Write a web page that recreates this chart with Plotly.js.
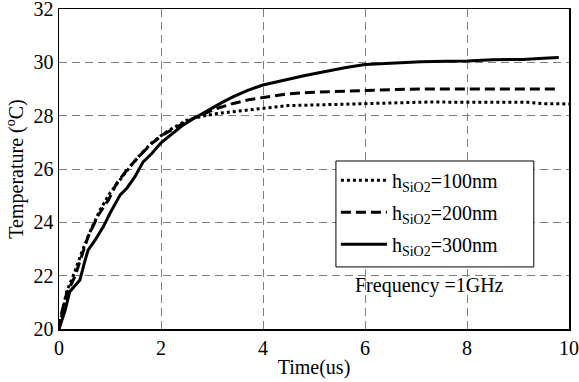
<!DOCTYPE html>
<html>
<head>
<meta charset="utf-8">
<script src="https://cdn.plot.ly/plotly-3.0.1.min.js"></script>
<style>html,body{margin:0;padding:0;background:#fff;}#chart{width:579px;height:382px;}</style>
</head>
<body>
<div id="chart"></div>
<script>
// Time (us) and temperature (°C)
const t100 = [0, 0.05, 0.15, 0.3, 0.45, 0.6, 0.8, 1.0, 1.2, 1.4, 1.6, 1.8, 2.0, 2.2, 2.5, 2.83, 3.1, 3.42, 3.8, 4.2, 4.5, 5.0, 5.31, 6.03, 6.6, 7.21, 8.0, 8.6, 9.2, 9.5, 10];
const T100 = [20.0, 20.5, 21.4, 22.1, 22.9, 23.6, 24.45, 25.1, 25.6, 26.1, 26.55, 26.95, 27.25, 27.5, 27.82, 27.99, 28.08, 28.15, 28.25, 28.33, 28.38, 28.4, 28.42, 28.46, 28.48, 28.51, 28.5, 28.5, 28.5, 28.45, 28.44];

const t200 = [0, 0.05, 0.15, 0.31, 0.44, 0.57, 0.77, 0.97, 1.13, 1.33, 1.56, 1.82, 2.05, 2.3, 2.63, 3.09, 3.4, 3.75, 4.1, 4.5, 5.0, 5.3, 6.0, 6.6, 7.2, 8.0, 9.0, 9.8];
const T200 = [20.0, 20.59, 21.33, 21.96, 22.71, 23.46, 24.27, 24.84, 25.46, 25.96, 26.46, 26.96, 27.3, 27.55, 27.9, 28.27, 28.45, 28.61, 28.72, 28.82, 28.88, 28.9, 28.96, 28.98, 29.0, 29.0, 29.0, 29.0];

const t300 = [0, 0.05, 0.12, 0.21, 0.3, 0.41, 0.5, 0.57, 0.71, 0.87, 1.0, 1.1, 1.2, 1.33, 1.49, 1.65, 1.82, 2.0, 2.2, 2.4, 2.6, 2.76, 3.0, 3.2, 3.42, 3.7, 4.0, 4.2, 4.5, 4.8, 5.2, 5.6, 6.0, 6.5, 7.1, 7.6, 8.0, 8.5, 9.1, 9.5, 9.8];
const T300 = [20.0, 20.3, 20.7, 21.4, 21.6, 21.84, 22.5, 22.96, 23.34, 23.84, 24.34, 24.7, 25.03, 25.28, 25.71, 26.27, 26.58, 26.98, 27.3, 27.6, 27.85, 28.02, 28.3, 28.5, 28.71, 28.95, 29.15, 29.24, 29.38, 29.5, 29.65, 29.8, 29.92, 29.97, 30.02, 30.04, 30.05, 30.1, 30.11, 30.15, 30.18];

const seriesNames = ['h<sub>SiO2</sub>=100nm', 'h<sub>SiO2</sub>=200nm', 'h<sub>SiO2</sub>=300nm'];
const xTicks = [0, 2, 4, 6, 8, 10];
const yTicks = [20, 22, 24, 26, 28, 30, 32];
const noteText = 'Frequency =1GHz';

const font = {family: 'Times New Roman, Liberation Serif, DejaVu Serif, serif', size: 20, color: '#000'};

const traces = [
  {x: t100, y: T100, name: seriesNames[0], legendgroup: 'g1', mode: 'lines', line: {color: '#000', width: 3, dash: '3px,3px'}},
  {x: t200, y: T200, name: seriesNames[1], legendgroup: 'g2', mode: 'lines', line: {color: '#000', width: 3, dash: '10px,5px'}},
  {x: t300, y: T300, name: seriesNames[2], legendgroup: 'g3', mode: 'lines', line: {color: '#000', width: 3}}
];

const axisCommon = {
  showline: true, mirror: true, linecolor: '#000', linewidth: 1.5,
  showgrid: true, gridcolor: '#7f7f7f', gridwidth: 1, griddash: '8px,5px',
  zeroline: false, ticks: '', tickfont: font, ticklabeloverflow: 'allow'
};

const layout = {
  width: 579, height: 382,
  margin: {l: 59, r: 10, t: 9, b: 53},
  paper_bgcolor: '#fff', plot_bgcolor: '#fff',
  font: font,
  showlegend: true,
  xaxis: Object.assign({}, axisCommon, {
    range: [0, 10], tickvals: xTicks, ticktext: xTicks.map(String),
    title: {text: 'Time(us)', font: font, standoff: 2}
  }),
  yaxis: Object.assign({}, axisCommon, {
    range: [20, 32], tickvals: yTicks, ticktext: yTicks.map(String),
    title: {text: 'Temperature (<sup>o</sup>C)', font: font, standoff: 4}
  }),
  legend: {
    x: 0.543, y: 0.526, xanchor: 'left', yanchor: 'top',
    bgcolor: 'rgba(0,0,0,0)', borderwidth: 0,
    font: font, tracegroupgap: 3, itemwidth: 46
  },
  shapes: [{
    type: 'rect', xref: 'paper', yref: 'paper',
    x0: 0.543, x1: 0.931, y0: 0.194, y1: 0.525,
    line: {color: '#000', width: 1}, fillcolor: '#fff', layer: 'above'
  }],
  annotations: [{
    x: 7.27, y: 21.65, xref: 'x', yref: 'y', text: noteText, showarrow: false,
    font: font
  }]
};

Plotly.newPlot('chart', traces, layout, {displayModeBar: false, staticPlot: true});
</script>
</body>
</html>
